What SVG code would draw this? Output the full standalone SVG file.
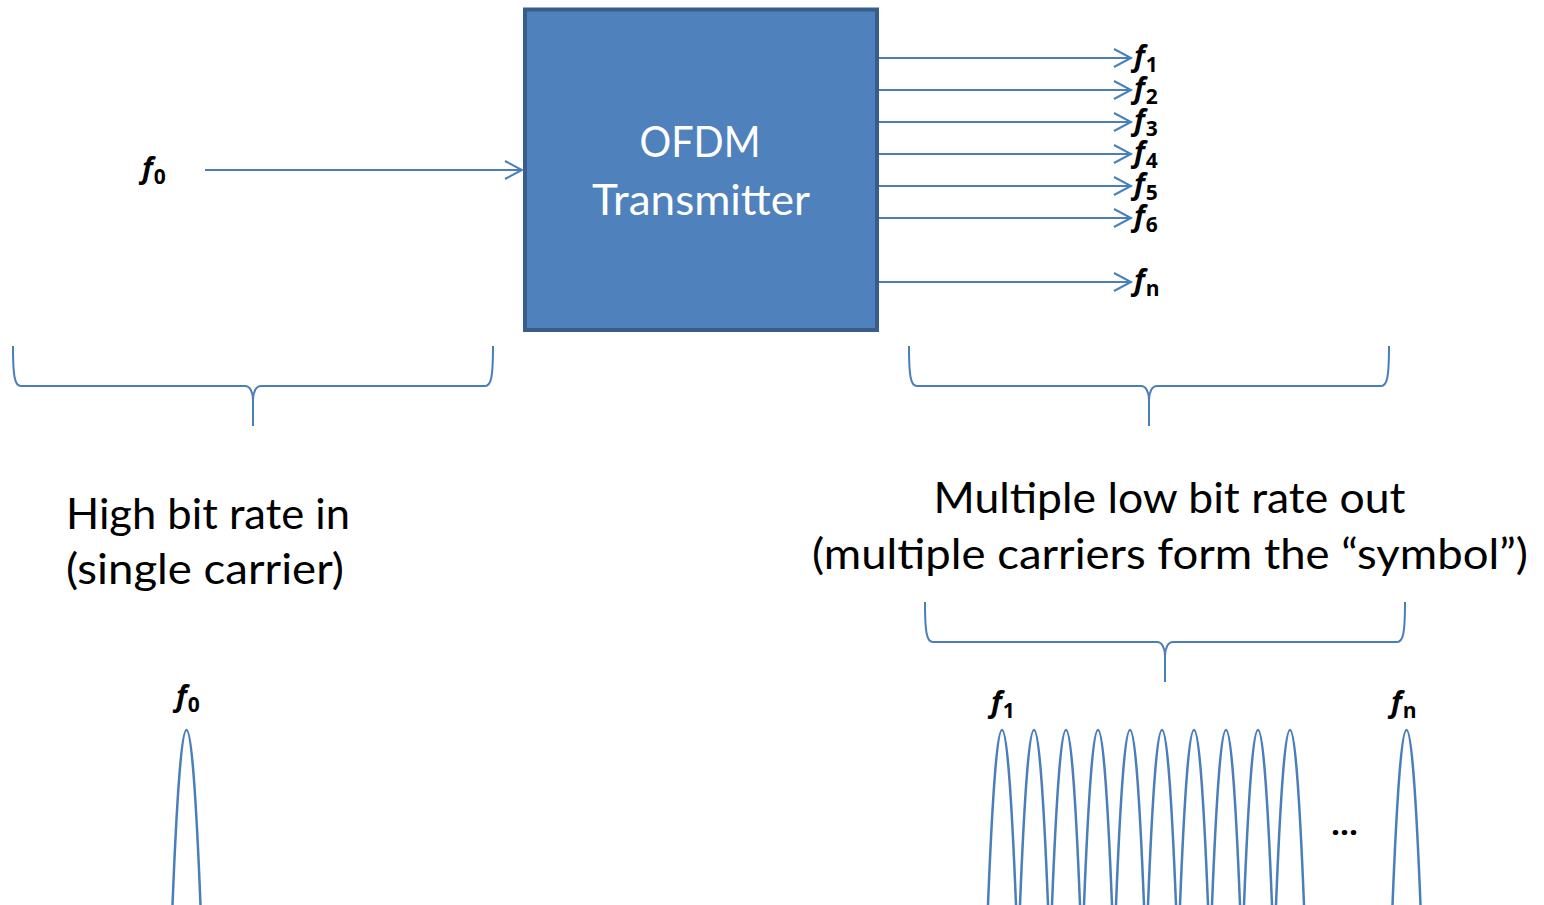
<svg xmlns="http://www.w3.org/2000/svg" xmlns:xlink="http://www.w3.org/1999/xlink" width="1544" height="905" viewBox="0 0 1544 905">
<style>
.ln{fill:none;stroke:#4A7EBB;stroke-width:2}
.pk{fill:none;stroke:#4A7EBB;stroke-width:2.5}
.br{fill:none;stroke:#4A7EBB;stroke-width:2}
.big{font-family:Lato,"Open Sans","Liberation Sans",sans-serif;font-size:43px;fill:#000}
.box{font-family:Lato,"Open Sans","Liberation Sans",sans-serif;font-size:42px;fill:#fff}
.f{font-family:"Open Sans","Liberation Sans",sans-serif;font-size:29px;font-weight:bold;font-style:italic;fill:#000}
.s{font-size:21px;font-style:normal;font-weight:bold}
</style>
<defs>
<marker id="open" markerUnits="userSpaceOnUse" markerWidth="22" markerHeight="22" viewBox="0 0 22 22" refX="19" refY="11" orient="auto">
<path d="M2,2 L19,11 L2,20" fill="none" stroke="#4A7EBB" stroke-width="2"/>
</marker>
<path id="brace" d="M0,0 C0,32 2,40 8,40 L232,40 C237,40 240,46 240,54 L240,80 M240,54 C240,46 243,40 248,40 L472,40 C478,40 480,32 480,0"/>
<path id="peak" d="M-14.2,180 Q0,-180 14.2,180"/>
</defs>
<rect width="1544" height="905" fill="#fff"/>

<g id="transmitter">
<rect x="525" y="9.5" width="352" height="320.5" fill="#4F81BD" stroke="#385D8A" stroke-width="4"/>
<text class="box" x="700" y="157" text-anchor="middle" textLength="121" lengthAdjust="spacingAndGlyphs">OFDM</text>
<text class="box" x="701" y="215" text-anchor="middle" textLength="218" lengthAdjust="spacingAndGlyphs">Transmitter</text>
</g>

<g id="connectors">
<line class="ln" x1="205" y1="170" x2="522" y2="170" marker-end="url(#open)"/>
<line class="ln" x1="879" y1="58" x2="1131" y2="58" marker-end="url(#open)"/>
<line class="ln" x1="879" y1="90" x2="1131" y2="90" marker-end="url(#open)"/>
<line class="ln" x1="879" y1="122" x2="1131" y2="122" marker-end="url(#open)"/>
<line class="ln" x1="879" y1="154" x2="1131" y2="154" marker-end="url(#open)"/>
<line class="ln" x1="879" y1="186" x2="1131" y2="186" marker-end="url(#open)"/>
<line class="ln" x1="879" y1="218" x2="1131" y2="218" marker-end="url(#open)"/>
<line class="ln" x1="879" y1="282" x2="1131" y2="282" marker-end="url(#open)"/>
</g>

<g id="input-label">
<text class="f" x="142" y="178">f<tspan class="s" dx="1" dy="6">0</tspan></text>
</g>

<g id="output-labels">
<text class="f" x="1134" y="66">f<tspan class="s" dx="1" dy="6">1</tspan></text>
<text class="f" x="1134" y="98">f<tspan class="s" dx="1" dy="6">2</tspan></text>
<text class="f" x="1134" y="130">f<tspan class="s" dx="1" dy="6">3</tspan></text>
<text class="f" x="1134" y="162">f<tspan class="s" dx="1" dy="6">4</tspan></text>
<text class="f" x="1134" y="194">f<tspan class="s" dx="1" dy="6">5</tspan></text>
<text class="f" x="1134" y="226">f<tspan class="s" dx="1" dy="6">6</tspan></text>
<text class="f" x="1134" y="290">f<tspan class="s" dx="1" dy="6">n</tspan></text>
</g>

<g id="braces">
<use xlink:href="#brace" href="#brace" class="br" x="13" y="346"/>
<use xlink:href="#brace" href="#brace" class="br" x="909" y="346"/>
<use xlink:href="#brace" href="#brace" class="br" x="925" y="602"/>
</g>

<g id="left-caption">
<text class="big" x="66" y="529" textLength="284" lengthAdjust="spacingAndGlyphs">High bit rate in</text>
<text class="big" x="66" y="584" textLength="278" lengthAdjust="spacingAndGlyphs">(single carrier)</text>
</g>

<g id="right-caption">
<text class="big" x="1169.5" y="513" text-anchor="middle" textLength="472" lengthAdjust="spacingAndGlyphs">Multiple low bit rate out</text>
<text class="big" x="1170" y="569" text-anchor="middle" textLength="716" lengthAdjust="spacingAndGlyphs">(multiple carriers form the “symbol”)</text>
</g>

<g id="single-carrier-spectrum">
<text class="f" x="176" y="706">f<tspan class="s" dx="1" dy="6">0</tspan></text>
<use xlink:href="#peak" href="#peak" class="pk" x="186.5" y="730"/>
</g>

<g id="multi-carrier-spectrum">
<text class="f" x="991" y="712">f<tspan class="s" dx="1" dy="6">1</tspan></text>
<text class="f" x="1391" y="712">f<tspan class="s" dx="1" dy="6">n</tspan></text>
<use xlink:href="#peak" href="#peak" class="pk" x="1002" y="730"/>
<use xlink:href="#peak" href="#peak" class="pk" x="1034" y="730"/>
<use xlink:href="#peak" href="#peak" class="pk" x="1066" y="730"/>
<use xlink:href="#peak" href="#peak" class="pk" x="1098" y="730"/>
<use xlink:href="#peak" href="#peak" class="pk" x="1130" y="730"/>
<use xlink:href="#peak" href="#peak" class="pk" x="1162" y="730"/>
<use xlink:href="#peak" href="#peak" class="pk" x="1194" y="730"/>
<use xlink:href="#peak" href="#peak" class="pk" x="1226" y="730"/>
<use xlink:href="#peak" href="#peak" class="pk" x="1258" y="730"/>
<use xlink:href="#peak" href="#peak" class="pk" x="1290" y="730"/>
<use xlink:href="#peak" href="#peak" class="pk" x="1406.5" y="730"/>
<text x="1344.5" y="835" text-anchor="middle" font-family="'Open Sans','Liberation Sans',sans-serif" font-size="30" font-weight="bold" fill="#000" textLength="27" lengthAdjust="spacingAndGlyphs">…</text>
</g>
</svg>
